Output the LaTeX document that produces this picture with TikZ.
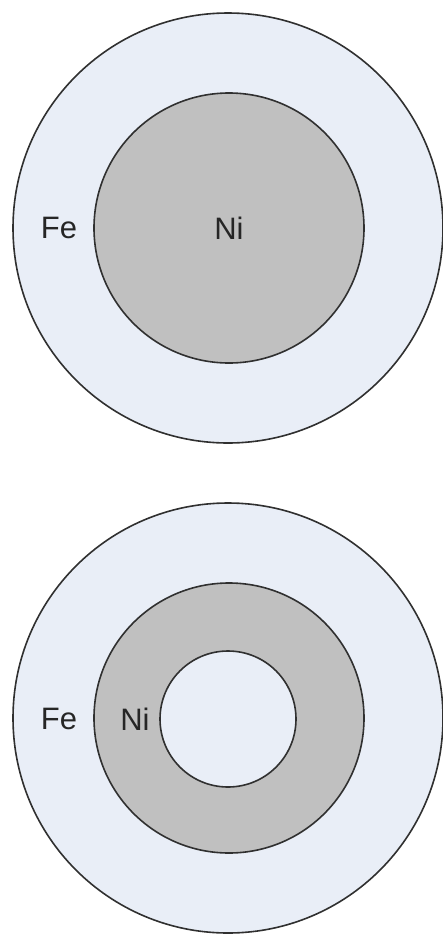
\documentclass[tikz,border=0pt]{standalone}
\usepackage{fontspec}
\setmainfont{Liberation Sans}
\usetikzlibrary{positioning}
\definecolor{feblue}{HTML}{E9EEF7}
\definecolor{nigray}{HTML}{C0C0C0}
\definecolor{edge}{HTML}{303030}
\begin{document}
\begin{tikzpicture}[x=1pt,y=-1pt,
  shell/.style={draw=edge,line width=1.6pt},
  lbl/.style={font=\fontsize{31}{36}\selectfont,text=black!85,inner sep=0pt}]
\useasboundingbox (0,0) rectangle (443,935);
% solid Ni core
\fill[feblue,shell] (228,228) circle[radius=215];
\fill[nigray,shell] (229,228) circle[radius=135];
\node[lbl] (fe1) at (59,228) {Fe};
\node[lbl] (ni1) at (229,228) {Ni};
% hollow Ni shell
\fill[feblue,shell] (228,718) circle[radius=215];
\fill[nigray,shell] (229,718) circle[radius=135];
\fill[feblue,shell] (228,719) circle[radius=68];
\node[lbl] (fe2) at (59,719) {Fe};
\node[lbl] (ni2) at (135,719) {Ni};
\end{tikzpicture}
\end{document}
